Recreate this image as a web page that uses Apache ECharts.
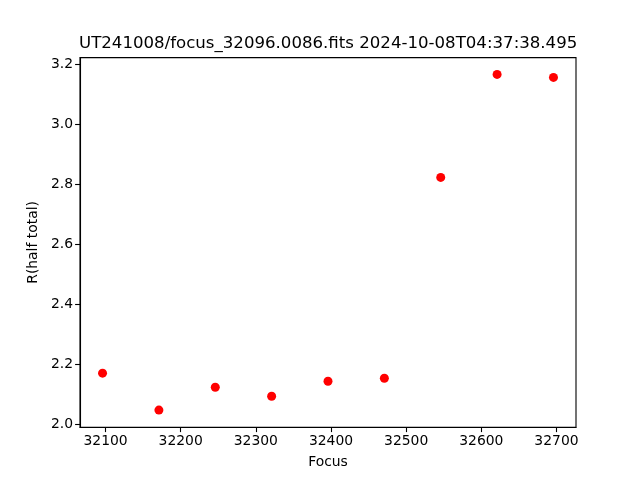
<!DOCTYPE html>
<html>
<head>
<meta charset="utf-8">
<script src="https://cdn.jsdelivr.net/npm/echarts@6/dist/echarts.min.js"></script>
<style>html,body{margin:0;padding:0;background:#fff}#c{width:640px;height:480px}</style>
</head>
<body>
<div id="c"></div>
<script>
const titleText = "UT241008/focus_32096.0086.fits 2024-10-08T04:37:38.495";
const focus = [32096, 32171, 32246, 32321, 32396, 32471, 32546, 32621, 32696];
const rHalfTotal = [2.170, 2.047, 2.123, 2.093, 2.143, 2.153, 2.822, 3.165, 3.155];
const xTicks = [32100, 32200, 32300, 32400, 32500, 32600, 32700];
const yTicks = [2.0, 2.2, 2.4, 2.6, 2.8, 3.0, 3.2];

const font = "DejaVu Sans";
const chart = echarts.init(document.getElementById('c'), null, {renderer: 'canvas'});
chart.setOption({
  animation: false,
  backgroundColor: '#fff',
  graphic: [{
    type: 'text', left: 79, top: 35,
    style: {text: titleText, x: 0, y: 0, fontFamily: font, fontSize: 16.6, fill: '#000'}
  }],
  grid: {left: 80, right: 64, top: 57.6, bottom: 52.8, show: true, borderColor: '#000', borderWidth: 1.1, backgroundColor: 'transparent'},
  xAxis: {
    type: 'value', min: 32066, max: 32726,
    name: 'Focus', nameLocation: 'middle', nameGap: 28,
    nameTextStyle: {fontFamily: font, fontSize: 13.9, color: '#000'},
    axisLine: {show: true, onZero: false, lineStyle: {color: '#000', width: 1.1}},
    axisTick: {show: true, length: 4.9, inside: false, customValues: xTicks, lineStyle: {color: '#000', width: 1.1}},
    axisLabel: {customValues: xTicks, fontFamily: font, fontSize: 13.9, color: '#000', margin: 7, formatter: v => String(v)},
    splitLine: {show: false}
  },
  yAxis: {
    type: 'value', min: 1.990, max: 3.221,
    name: 'R(half total)', nameLocation: 'middle', nameGap: 36,
    nameTextStyle: {fontFamily: font, fontSize: 13.9, color: '#000'},
    axisLine: {show: true, onZero: false, lineStyle: {color: '#000', width: 1.1}},
    axisTick: {show: true, length: 4.9, inside: false, customValues: yTicks, lineStyle: {color: '#000', width: 1.1}},
    axisLabel: {customValues: yTicks, fontFamily: font, fontSize: 13.9, color: '#000', margin: 7, formatter: v => v.toFixed(1)},
    splitLine: {show: false}
  },
  series: [{
    type: 'scatter',
    data: focus.map((f, i) => [f, rHalfTotal[i]]),
    symbol: 'circle', symbolSize: 9,
    itemStyle: {color: '#ff0000', opacity: 1}
  }]
});
</script>
</body>
</html>
